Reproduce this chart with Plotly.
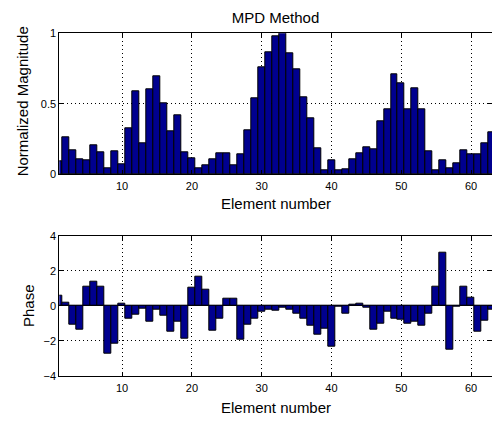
import plotly.graph_objects as go

elements = list(range(1, 64))

magnitude = [
    0.088, 0.263, 0.166, 0.107, 0.100, 0.204, 0.152, 0.043, 0.159, 0.066,
    0.327, 0.588, 0.218, 0.602, 0.694, 0.500, 0.303, 0.419, 0.152, 0.114,
    0.043, 0.059, 0.107, 0.149, 0.149, 0.059, 0.137, 0.310, 0.540, 0.758,
    0.863, 0.979, 0.998, 0.860, 0.744, 0.547, 0.393, 0.180, 0.028, 0.100,
    0.028, 0.036, 0.107, 0.145, 0.190, 0.173, 0.374, 0.457, 0.706, 0.642,
    0.457, 0.607, 0.457, 0.161, 0.028, 0.100, 0.043, 0.078, 0.166, 0.142,
    0.142, 0.216, 0.296,
]

phase = [
    0.57, 0.17, -1.08, -1.36, 1.09, 1.36, 1.09, -2.74, -2.15, 0.11,
    -0.72, -0.49, -0.19, -0.91, -0.23, -0.56, -1.47, -0.88, -1.87, 1.03,
    1.64, 0.91, -1.42, -0.72, 0.39, 0.39, -1.92, -1.08, -0.72, -0.36,
    -0.23, -0.30, -0.12, -0.20, -0.42, -0.75, -1.12, -1.64, -1.32, -2.34,
    -0.05, -0.42, 0.04, 0.15, -0.13, -1.36, -1.00, -0.32, -0.72, -0.79,
    -1.02, -0.89, -1.13, -0.47, 1.09, 3.05, -2.49, -0.07, 1.09, 0.44,
    -1.45, -0.82, -0.23,
]

x_ticks = [10, 20, 30, 40, 50, 60]
mag_ticks = [0, 0.5, 1]
mag_tick_text = ["0", "0.5", "1"]
phase_ticks = [-4, -2, 0, 2, 4]

W, H = 492, 422
BAR_COLOR = "#00008f"
FONT = "Liberation Sans, Arial, sans-serif"


def py(p):
    return 1 - p / H


fig = go.Figure()
fig.add_trace(go.Bar(x=elements, y=magnitude, xaxis="x", yaxis="y",
                     marker=dict(color=BAR_COLOR, line=dict(color="#000000", width=1)),
                     showlegend=False))
fig.add_trace(go.Bar(x=elements, y=phase, xaxis="x2", yaxis="y2",
                     marker=dict(color=BAR_COLOR, line=dict(color="#000000", width=1)),
                     showlegend=False))

xdom = [59.3 / W, 1.0]
common_x = dict(range=[1, 63], tickvals=x_ticks, showline=True, linecolor="black",
                linewidth=1, mirror="ticks", ticks="inside", ticklen=4, tickcolor="black",
                showgrid=True, gridcolor="black", gridwidth=1, griddash="1px,3px",
                zeroline=False, tickfont=dict(family=FONT, size=11, color="black"),
                ticklabelstandoff=2, automargin=False, fixedrange=True)
common_y = dict(showline=True, linecolor="black", linewidth=1, mirror="ticks",
                ticks="inside", ticklen=4, tickcolor="black", showgrid=True,
                gridcolor="black", gridwidth=1, griddash="1px,3px",
                tickfont=dict(family=FONT, size=11, color="black"),
                automargin=False, fixedrange=True)

fig.update_layout(
    width=W, height=H,
    margin=dict(l=0, r=0, t=0, b=0),
    paper_bgcolor="white", plot_bgcolor="white",
    bargap=0,
    showlegend=False,
    title=dict(text="MPD Method", x=275.5 / W, xanchor="center", y=py(17.5),
               yanchor="middle", font=dict(family=FONT, size=15, color="black")),
    xaxis=dict(domain=xdom, anchor="y", **common_x),
    yaxis=dict(domain=[py(174), py(33.3)], anchor="x", range=[0, 1],
               tickvals=mag_ticks, ticktext=mag_tick_text, zeroline=False, **common_y),
    xaxis2=dict(domain=xdom, anchor="y2", **common_x),
    yaxis2=dict(domain=[py(376), py(235.7)], anchor="x2", range=[-4, 4],
                tickvals=phase_ticks, zeroline=True, zerolinecolor="black",
                zerolinewidth=1, **common_y),
    annotations=[
        dict(text="Element number", x=275.5 / W, y=py(203), xref="paper", yref="paper",
             xanchor="center", yanchor="middle", showarrow=False,
             font=dict(family=FONT, size=15, color="black")),
        dict(text="Element number", x=275.5 / W, y=py(407), xref="paper", yref="paper",
             xanchor="center", yanchor="middle", showarrow=False,
             font=dict(family=FONT, size=15, color="black")),
        dict(text="Normalized Magnitude", x=23.3 / W, y=py(101), xref="paper", yref="paper",
             xanchor="center", yanchor="middle", textangle=-90, showarrow=False,
             font=dict(family=FONT, size=15, color="black")),
        dict(text="Phase", x=28 / W, y=py(306), xref="paper", yref="paper",
             xanchor="center", yanchor="middle", textangle=-90, showarrow=False,
             font=dict(family=FONT, size=15, color="black")),
    ],
)

fig.write_html("out.html")
